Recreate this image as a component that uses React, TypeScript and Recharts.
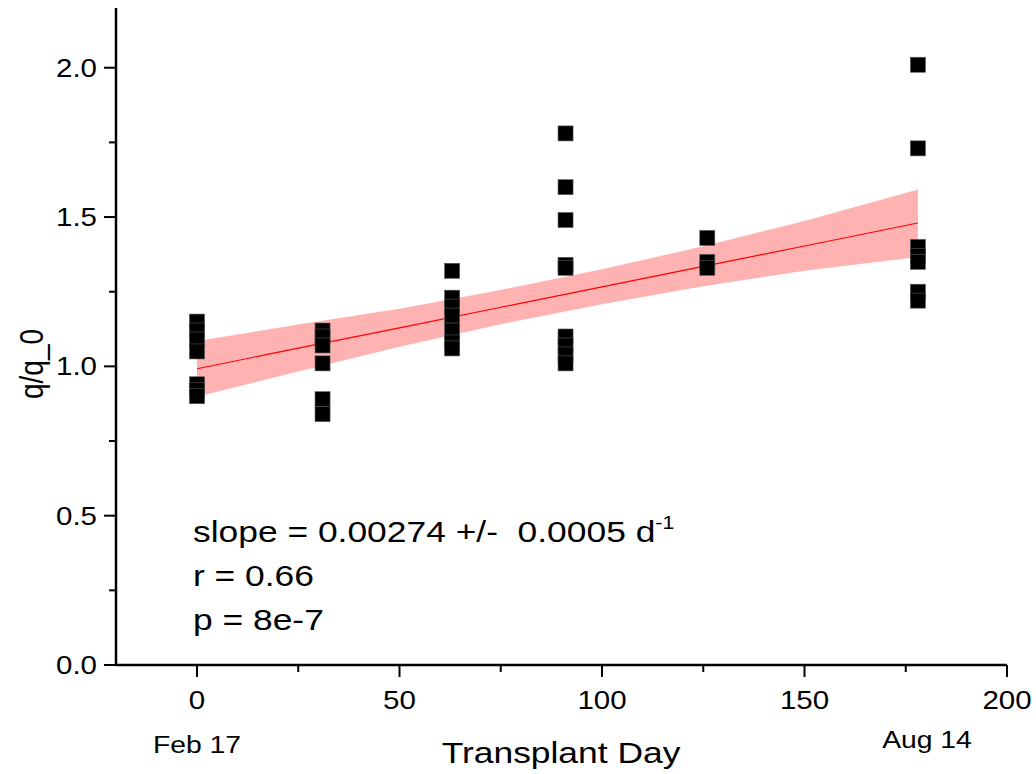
import React from "react";
import { ComposedChart, XAxis, YAxis, Scatter, Area, Line } from "recharts";

// Transplant days of measurement groups
const days = [0, 31, 63, 91, 126, 178];
// q/q_0 values read per day
const ratiosDay0 = [1.15, 1.12, 1.09, 1.05, 0.94, 0.92, 0.90];
const ratiosDay31 = [1.12, 1.10, 1.07, 1.01, 0.89, 0.84];
const ratiosDay63 = [1.32, 1.23, 1.20, 1.17, 1.12, 1.08, 1.06];
const ratiosDay91 = [1.78, 1.60, 1.49, 1.34, 1.33, 1.10, 1.07, 1.04, 1.01];
const ratiosDay126 = [1.43, 1.35, 1.33];
const ratiosDay178 = [2.01, 1.73, 1.40, 1.37, 1.35, 1.25, 1.22];
const ratioGroups = [ratiosDay0, ratiosDay31, ratiosDay63, ratiosDay91, ratiosDay126, ratiosDay178];

// Linear fit with confidence band
const fitDays = [0, 25, 50, 75, 100, 125, 150, 178];
const fitValues = [0.992, 1.061, 1.129, 1.198, 1.266, 1.335, 1.403, 1.48];
const fitUpper = [1.085, 1.14, 1.193, 1.256, 1.325, 1.402, 1.487, 1.592];
const fitLower = [0.898, 0.983, 1.066, 1.141, 1.208, 1.268, 1.32, 1.366];

const xTicks = [0, 25, 50, 75, 100, 125, 150, 175, 200];
const yTicks = [0, 0.25, 0.5, 0.75, 1.0, 1.25, 1.5, 1.75, 2.0];

const annotationLines = ["slope = 0.00274 +/-  0.0005 d", "r = 0.66", "p = 8e-7"];
const dateLabels = [
  { day: 0, text: "Feb 17" },
  { day: 180, text: "Aug 14" },
];

const scatterData = days.flatMap((d, i) => ratioGroups[i].map((v) => ({ x: d, y: v })));
const fitData = fitDays.map((d, i) => ({ x: d, fit: fitValues[i], band: [fitLower[i], fitUpper[i]] }));

const FONT = "'Liberation Sans', Arial, sans-serif";
const SX = 1.18;

const SquareShape = (props: any) => {
  const { cx, cy } = props;
  if (cx == null || cy == null) return null;
  return <rect x={cx - 7.5} y={cy - 7.5} width={15} height={15} fill="#000" stroke="#555" strokeWidth={0.6} />;
};

const YTick = (props: any) => {
  const { x, y, payload } = props;
  const v = payload.value;
  const major = Math.abs(v * 2 - Math.round(v * 2)) < 1e-6;
  const len = major ? 12 : 7;
  return (
    <g>
      <line x1={x - len} x2={x} y1={y} y2={y} stroke="#000" strokeWidth={2} />
      {major && (
        <text
          transform={`translate(${x - 19},${y + 9}) scale(${SX},1)`}
          textAnchor="end"
          fontSize={25}
          fontFamily={FONT}
          fill="#000"
        >
          {v.toFixed(1)}
        </text>
      )}
    </g>
  );
};

const XTick = (props: any) => {
  const { x, y, payload } = props;
  const v = payload.value;
  const major = v % 50 === 0;
  const len = major ? 12 : 7;
  return (
    <g>
      <line x1={x} x2={x} y1={y} y2={y + len} stroke="#000" strokeWidth={2} />
      {major && (
        <text
          transform={`translate(${x},${y + 44}) scale(${SX},1)`}
          textAnchor="middle"
          fontSize={25}
          fontFamily={FONT}
          fill="#000"
        >
          {v}
        </text>
      )}
    </g>
  );
};

export default function App() {
  const xPix = (d: number) => 116 + ((d + 20) / 220) * 891;
  return (
    <div style={{ position: "absolute", left: 0, top: 0, width: 1036, height: 774, background: "#fff" }}>
      <ComposedChart
        width={1036}
        height={774}
        data={fitData}
        margin={{ top: 8, right: 29, bottom: 0, left: 0 }}
      >
        <XAxis
          type="number"
          dataKey="x"
          domain={[-20, 200]}
          ticks={xTicks}
          interval={0}
          height={109}
          tickSize={0}
          tickMargin={0}
          tickLine={false}
          axisLine={{ stroke: "#000", strokeWidth: 2.5 }}
          tick={<XTick />}
        />
        <YAxis
          type="number"
          domain={[0, 2.2]}
          ticks={yTicks}
          interval={0}
          width={116}
          tickSize={0}
          tickMargin={0}
          tickLine={false}
          axisLine={{ stroke: "#000", strokeWidth: 2.5 }}
          tick={<YTick />}
        />
        <Scatter data={scatterData} dataKey="y" shape={<SquareShape />} isAnimationActive={false} />
        <Area
          dataKey="band"
          type="linear"
          stroke="none"
          fill="#ff0000"
          fillOpacity={0.3}
          isAnimationActive={false}
          activeDot={false}
        />
        <Line
          dataKey="fit"
          type="linear"
          stroke="#ff0000"
          strokeWidth={1.2}
          dot={false}
          activeDot={false}
          isAnimationActive={false}
        />
      </ComposedChart>
      <svg
        width={1036}
        height={774}
        style={{ position: "absolute", left: 0, top: 0, pointerEvents: "none" }}
        fontFamily={FONT}
      >
        {annotationLines.map((t, i) => (
          <text
            key={t}
            transform={`translate(193,${542 + i * 44}) scale(${SX},1)`}
            fontSize={30}
            fill="#000"
            style={{ whiteSpace: "pre" }}
            xmlSpace="preserve"
          >
            {t}
            {i === 0 && (
              <tspan fontSize={18} dy={-13}>
                -1
              </tspan>
            )}
          </text>
        ))}
        {dateLabels.map((l) => (
          <text
            key={l.text}
            transform={`translate(${xPix(l.day) + (l.day === 0 ? 0 : 1)},${l.day === 0 ? 753 : 748}) scale(${SX},1)`}
            textAnchor="middle"
            fontSize={24}
            fill="#000"
          >
            {l.text}
          </text>
        ))}
        <text transform={`translate(561,763) scale(${SX},1)`} textAnchor="middle" fontSize={30} fill="#000">
          Transplant Day
        </text>
        <text transform={`translate(43,364) rotate(-90) scale(1,${SX})`} textAnchor="middle" fontSize={28} fill="#000">
          q/q_0
        </text>
      </svg>
    </div>
  );
}
